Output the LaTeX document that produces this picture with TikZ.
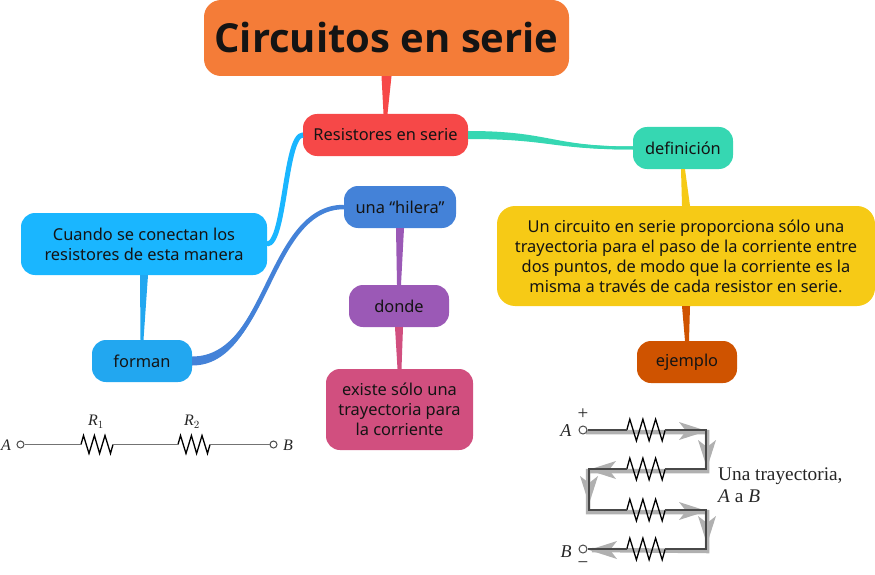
\documentclass[tikz,border=0pt]{standalone}
\usepackage{fontspec}
\setmainfont{Noto Sans}
\newfontfamily\serif{Liberation Serif}
\newfontfamily\heading{Open Sans}
\usetikzlibrary{calc}

\definecolor{cTitle}{HTML}{F47C38}
\definecolor{cRes}{HTML}{F64848}
\definecolor{cDef}{HTML}{36D7B2}
\definecolor{cYel}{HTML}{F6CA16}
\definecolor{cEje}{HTML}{CF5300}
\definecolor{cHil}{HTML}{4482D8}
\definecolor{cDon}{HTML}{9B59B6}
\definecolor{cExi}{HTML}{D14F7F}
\definecolor{cCua}{HTML}{1AB6FF}
\definecolor{cFor}{HTML}{22A7F0}
\definecolor{cWire}{HTML}{484848}
\definecolor{cFlow}{HTML}{B0B0B0}

\tikzset{
  box/.style={rounded corners=14pt,inner sep=0pt,align=center,text=black!92,
    font=\fontsize{16.4}{20}\selectfont},
  small/.style={box,minimum width=100pt,minimum height=42pt},
  term/.style={circle,draw=black!70,line width=1pt,fill=white,inner sep=0pt,minimum size=8pt},
  lab/.style={font=\serif\fontsize{16}{18}\selectfont,text=black!85,inner sep=0pt},
  flow/.style={draw=cFlow,line width=4.5pt,line join=miter},
  wire/.style={draw=cWire,line width=1.3pt},
  zigzag/.pic={
    \coordinate (-w) at (-16,0);
    \coordinate (-e) at (16,0);
    \draw[black,line width=1.3pt,line join=miter] (-16,0) -- (-13.5,-9) -- (-8,9) -- (-2.6,-9)
    -- (2.6,9) -- (8,-9) -- (13.5,9) -- (16,0);
  },
  flowhead/.pic={
    \fill[cFlow] (-27,-9) -- (1,0) -- (-27,9) -- (-20,0) -- cycle;
  }
}

% tapered links, straight and curved
\newcommand{\linkv}[5]{\fill[#1] ($(#2)+(-#4,0)$) -- ($(#2)+(#4,0)$)
  -- ($(#3)+(#5,0)$) -- ($(#3)+(-#5,0)$) -- cycle;}
\newcommand{\linkh}[6]{\fill[#1] let \p1=(#2), \p2=(#3), \n1={(\x1+\x2)/2} in
  (\x1,\y1-#4pt) .. controls (\n1,\y1-#4pt) and (\n1,\y2-#5pt) .. (\x2,\y2-#5pt)
  -- (\x2,\y2+#5pt) .. controls (\n1,\y2+#5pt) and (\n1,\y1+#4pt) .. (\x1,\y1+#4pt) -- cycle;
  \draw[#1,line width=#6pt] let \p1=(#2), \p2=(#3), \n1={(\x1+\x2)/2} in
  (\x1,\y1) .. controls (\n1,\y1) and (\n1,\y2) .. (\x2,\y2);}

\begin{document}
\begin{tikzpicture}[x=1pt,y=-1pt]
    \useasboundingbox (0,0) rectangle (875,575);

    % boxes
    \node[box,fill=cTitle,minimum width=365pt,minimum height=76pt,rounded corners=17pt,
      font=\heading\bfseries\fontsize{40}{44}\selectfont] (title) at (386.5,38) {Circuitos en serie};
    \node[box,fill=cRes,minimum width=165pt,minimum height=42pt] (res) at (385.5,135) {Resistores en serie};
    \node[small,fill=cDef] (def) at (683,148) {definición};
    \node[box,fill=cYel,minimum width=378pt,minimum height=100pt,rounded corners=18pt] (text) at (686,256)
      {Un circuito en serie proporciona sólo una\\trayectoria para el paso de la corriente entre\\
       dos puntos, de modo que la corriente es la\\misma a través de cada resistor en serie.};
    \node[small,fill=cEje] (eje) at (687,362) {ejemplo};
    \node[box,fill=cHil,minimum width=112pt,minimum height=42pt] (hil) at (400,207) {una “hilera”};
    \node[small,fill=cDon] (don) at (399,306) {donde};
    \node[box,fill=cExi,minimum width=147pt,minimum height=81pt] (exi) at (399.5,409.5)
      {existe sólo una\\trayectoria para\\la corriente};
    \node[box,fill=cCua,minimum width=246pt,minimum height=62pt] (cua) at (144,244)
      {Cuando se conectan los\\resistores de esta manera};
    \node[small,fill=cFor] (for) at (142,361) {forman};

    % links
    \linkv{cRes}{title.south}{res.north}{5}{2}
    \linkh{cDef}{res.east}{def.west}{4}{1.5}{3}
    \linkv{cYel}{def.south}{text.north}{2}{4}
    \linkv{cEje}{text.south}{eje.north}{4}{2}
    \linkv{cDon}{hil.south}{don.north}{4}{2}
    \linkv{cExi}{don.south}{exi.north}{4}{2}
    \linkh{cCua}{cua.east}{res.west}{2}{2.5}{5}
    \linkv{cFor}{cua.south}{for.north}{4}{1.5}
    \linkh{cHil}{for.east}{hil.west}{4.5}{1.5}{4.5}

    % upper left circuit
    \node[term,minimum size=7pt] (a1) at (20.5,444.5) {};
    \node[term,minimum size=7pt] (b1) at (273.5,444.5) {};
    \pic (r1) at (97,444.5) {zigzag};
    \pic (r2) at (194,444.5) {zigzag};
    \draw[black!55,line width=1pt] (a1) -- (r1-w) (r1-e) -- (r2-w) (r2-e) -- (b1);
    \node[lab] (la1) at (6,445) {\textit{A}};
    \node[lab] (lb1) at (288,445) {\textit{B}};
    \node[lab] (lr1) at (96,422) {\textit{R}$_1$};
    \node[lab] (lr2) at (192,422) {\textit{R}$_2$};

    % path circuit
    \foreach \n/\y in {1/430,2/469,3/510,4/549}
    {
      \coordinate (el\n) at (589,\y);
      \coordinate (er\n) at (706,\y);
      \coordinate (fl\n) at (588,\y+2);
      \coordinate (fr\n) at (707,\y+2);
    }

    \coordinate (fa) at (586,432);
    \coordinate (fb) at (592,550);
    \draw[flow] (fa) -- (fr1) -- (fr2) -- (fl2) -- (fl3) -- (fr3) -- (fr4) -- (fb);
    \foreach \px/\py/\rot in {706/431/0,707/467/-90,589/470/180,589/503/-90,706/511/0,707/543/-90,590/550/180}
    \pic[rotate=\rot] at (\px,\py) {flowhead};

    \foreach \n/\y in {1/430,2/469,3/510,4/549}
    \pic[scale=1.2] (s\n) at (646,\y) {zigzag};

    \node[term] (a2) at (583,430) {};
    \node[term] (b2) at (583,549) {};
    \draw[wire] (a2) -- (s1-w) (s1-e) -- (er1) -- (er2) -- (s2-e) (s2-w) -- (el2) -- (el3) -- (s3-w)
    (s3-e) -- (er3) -- (er4) -- (s4-e) (s4-w) -- (b2);

    \node[lab,font=\serif\fontsize{18}{18}\selectfont] (la2) at (566,431) {\textit{A}};
    \node[lab,font=\serif\fontsize{18}{18}\selectfont] (lb2) at (566,552) {\textit{B}};
    \node[lab,font=\serif\fontsize{19}{18}\selectfont] (plus) at (583,414) {+};
    \node[lab,font=\serif\fontsize{19}{18}\selectfont] (minus) at (583,565) {−};
    \node[lab,font=\serif\fontsize{19.3}{22}\selectfont,align=left,anchor=north west] (path) at (718,468)
      {Una trayectoria,\\\textit{A} a \textit{B}};
\end{tikzpicture}
\end{document}
